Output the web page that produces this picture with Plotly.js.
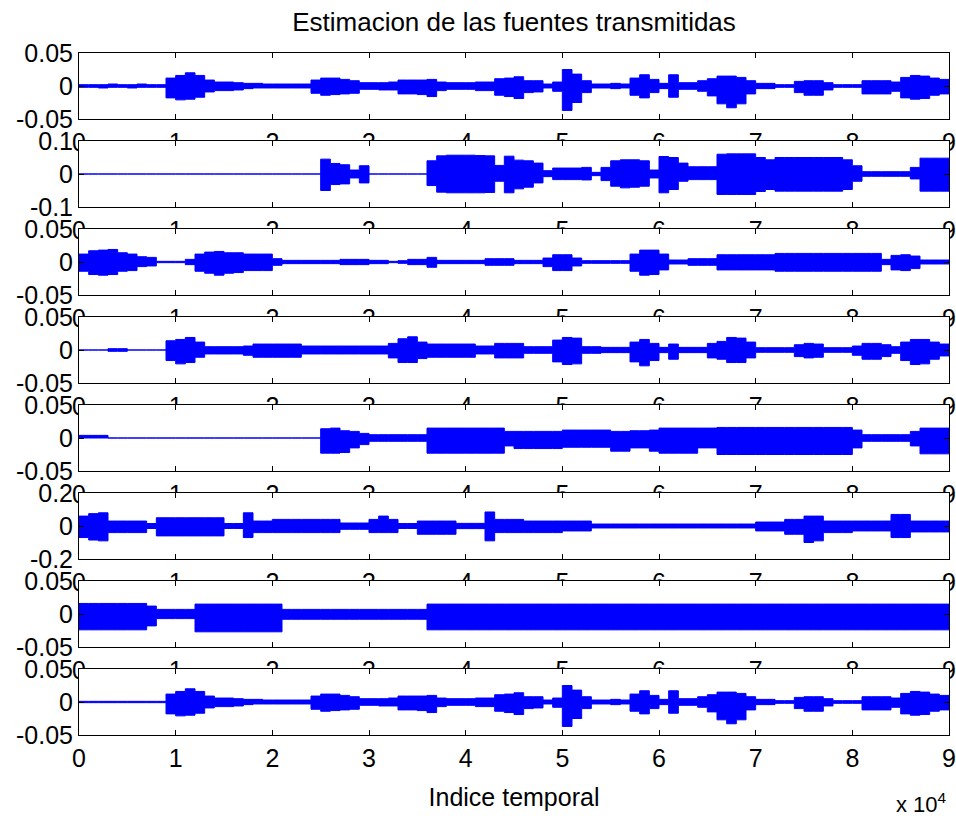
<!DOCTYPE html>
<html>
<head>
<meta charset="utf-8">
<script src="https://cdn.plot.ly/plotly-3.0.1.min.js"></script>
<style>
  html, body { margin: 0; padding: 0; background: #ffffff; }
  #chart { width: 956px; height: 820px; }
</style>
</head>
<body>
<div id="chart"></div>
<script>
// Envelope of each estimated source, one value per block of 1000 samples
// (upper = positive peak, lower = negative peak inside the block).
const BLOCK = 1000;

const S1_UPPER = [0.002,0.002,0.002,0.003,0.002,0.002,0.003,0.002,0.002,
  0.012,0.016,0.020,0.016,0.009,0.006,0.006,0.005,0.004,0.004,0.003,
  0.003,0.003,0.003,0.003,0.009,0.012,0.012,0.010,0.008,0.005,
  0.005,0.005,0.006,0.009,0.009,0.009,0.010,0.006,0.005,0.005,
  0.005,0.006,0.006,0.011,0.012,0.014,0.008,0.008,0.003,0.006,
  0.025,0.018,0.008,0.003,0.003,0.004,0.003,0.012,0.017,0.010,
  0.004,0.017,0.005,0.005,0.008,0.011,0.015,0.015,0.013,0.008,
  0.004,0.004,0.002,0.002,0.007,0.008,0.008,0.005,0.002,0.002,
  0.002,0.008,0.008,0.008,0.006,0.013,0.016,0.015,0.012,0.010,
  0.010];
const S1_LOWER = [-0.002,-0.002,-0.003,-0.002,-0.002,-0.003,-0.002,-0.002,-0.002,
  -0.018,-0.021,-0.020,-0.017,-0.009,-0.007,-0.007,-0.006,-0.004,-0.003,-0.003,
  -0.003,-0.003,-0.003,-0.003,-0.011,-0.014,-0.013,-0.012,-0.011,-0.005,
  -0.005,-0.006,-0.006,-0.012,-0.012,-0.013,-0.016,-0.007,-0.005,-0.005,
  -0.005,-0.007,-0.007,-0.014,-0.016,-0.019,-0.010,-0.009,-0.003,-0.008,
  -0.037,-0.025,-0.010,-0.003,-0.003,-0.004,-0.003,-0.014,-0.018,-0.010,
  -0.004,-0.017,-0.005,-0.005,-0.008,-0.015,-0.027,-0.033,-0.027,-0.012,
  -0.004,-0.004,-0.002,-0.002,-0.010,-0.014,-0.014,-0.006,-0.002,-0.002,
  -0.002,-0.012,-0.012,-0.012,-0.008,-0.018,-0.020,-0.019,-0.014,-0.012,
  -0.012];

const S2_UPPER = [0,0,0,0,0,0,0,0,0,0,
  0,0,0,0,0,0,0,0,0,0,
  0,0,0,0,0,0.045,0.032,0.028,0.012,0.025,
  0,0,0,0,0,0,0.040,0.055,0.057,0.057,
  0.057,0.056,0.055,0.026,0.054,0.042,0.040,0.033,0.010,0.018,
  0.018,0.018,0.020,0.005,0.020,0.040,0.043,0.043,0.040,0.012,
  0.053,0.050,0.033,0.022,0.022,0.022,0.060,0.061,0.061,0.061,
  0.050,0.043,0.050,0.050,0.050,0.050,0.050,0.050,0.050,0.043,
  0.025,0.007,0.007,0.007,0.007,0.007,0.020,0.048,0.048,0.048,
  0.048];
const S2_LOWER = [0,0,0,0,0,0,0,0,0,0,
  0,0,0,0,0,0,0,0,0,0,
  0,0,0,0,0,-0.050,-0.032,-0.030,-0.012,-0.027,
  0,0,0,0,0,0,-0.035,-0.055,-0.057,-0.057,
  -0.057,-0.057,-0.056,-0.022,-0.057,-0.045,-0.040,-0.027,-0.008,-0.017,
  -0.017,-0.017,-0.018,-0.005,-0.020,-0.037,-0.042,-0.040,-0.037,-0.012,
  -0.057,-0.047,-0.022,-0.017,-0.017,-0.017,-0.062,-0.062,-0.062,-0.062,
  -0.053,-0.047,-0.052,-0.052,-0.052,-0.052,-0.052,-0.052,-0.052,-0.047,
  -0.022,-0.007,-0.007,-0.007,-0.007,-0.007,-0.015,-0.052,-0.052,-0.052,
  -0.052];

const S3_UPPER = [0.012,0.017,0.018,0.019,0.014,0.012,0.008,0.007,0.001,0.001,
  0.001,0.004,0.012,0.015,0.016,0.014,0.014,0.012,0.012,0.012,
  0.005,0.0025,0.0025,0.0025,0.0025,0.0025,0.0025,0.004,0.004,0.004,
  0.0025,0.0025,0.001,0.002,0.004,0.004,0.007,0.0025,0.0025,0.0025,
  0.0025,0.0025,0.005,0.005,0.005,0.0025,0.0025,0.0025,0.006,0.011,
  0.011,0.006,0.002,0.002,0.002,0.002,0.002,0.012,0.018,0.018,
  0.012,0.003,0.003,0.005,0.005,0.005,0.011,0.011,0.011,0.011,
  0.011,0.011,0.013,0.013,0.013,0.013,0.013,0.013,0.013,0.013,
  0.013,0.013,0.013,0.004,0.010,0.011,0.009,0.003,0.003,0.003,
  0.003];
const S3_LOWER = [-0.014,-0.019,-0.020,-0.019,-0.014,-0.013,-0.007,-0.006,-0.001,-0.001,
  -0.001,-0.004,-0.014,-0.017,-0.020,-0.017,-0.016,-0.013,-0.013,-0.013,
  -0.005,-0.0025,-0.0025,-0.0025,-0.0025,-0.0025,-0.0025,-0.004,-0.004,-0.004,
  -0.0025,-0.0025,-0.001,-0.002,-0.004,-0.004,-0.008,-0.0025,-0.0025,-0.0025,
  -0.0025,-0.0025,-0.005,-0.005,-0.005,-0.0025,-0.0025,-0.0025,-0.007,-0.013,
  -0.013,-0.006,-0.002,-0.002,-0.002,-0.002,-0.002,-0.014,-0.020,-0.019,
  -0.012,-0.003,-0.003,-0.005,-0.005,-0.005,-0.012,-0.012,-0.012,-0.012,
  -0.012,-0.012,-0.014,-0.014,-0.014,-0.014,-0.014,-0.014,-0.014,-0.014,
  -0.014,-0.014,-0.014,-0.004,-0.012,-0.013,-0.010,-0.003,-0.003,-0.003,
  -0.003];

const S4_UPPER = [0,0,0,0.002,0.002,0,0,0,0,0.014,
  0.016,0.019,0.012,0.005,0.005,0.005,0.005,0.006,0.009,0.009,
  0.009,0.009,0.009,0.006,0.006,0.006,0.006,0.006,0.006,0.006,
  0.006,0.006,0.010,0.017,0.020,0.012,0.009,0.009,0.009,0.009,
  0.009,0.006,0.006,0.010,0.010,0.010,0.005,0.005,0.005,0.015,
  0.019,0.018,0.005,0.005,0.004,0.004,0.004,0.012,0.016,0.010,
  0.004,0.009,0.004,0.004,0.004,0.010,0.013,0.019,0.018,0.012,
  0.0035,0.0035,0.0035,0.0035,0.008,0.010,0.009,0.0035,0.0035,0.0035,
  0.006,0.010,0.010,0.008,0.005,0.012,0.016,0.016,0.012,0.009,
  0.009];
const S4_LOWER = [0,0,0,-0.002,-0.002,0,0,0,0,-0.016,
  -0.021,-0.019,-0.011,-0.006,-0.006,-0.006,-0.006,-0.008,-0.011,-0.011,
  -0.011,-0.011,-0.011,-0.006,-0.006,-0.006,-0.006,-0.006,-0.006,-0.006,
  -0.006,-0.006,-0.012,-0.019,-0.019,-0.013,-0.011,-0.011,-0.011,-0.011,
  -0.011,-0.006,-0.006,-0.012,-0.012,-0.012,-0.005,-0.005,-0.005,-0.018,
  -0.022,-0.021,-0.005,-0.005,-0.004,-0.004,-0.004,-0.018,-0.024,-0.016,
  -0.004,-0.014,-0.004,-0.004,-0.004,-0.012,-0.014,-0.019,-0.019,-0.012,
  -0.0035,-0.0035,-0.0035,-0.0035,-0.010,-0.012,-0.011,-0.0035,-0.0035,-0.0035,
  -0.008,-0.014,-0.014,-0.010,-0.005,-0.016,-0.022,-0.021,-0.014,-0.009,
  -0.009];

const S5_UPPER = [0.004,0.004,0.004,0,0,0,0,0,0,0,
  0,0,0,0,0,0,0,0,0,0,
  0,0,0,0,0,0.014,0.015,0.011,0.010,0.007,
  0.005,0.005,0.005,0.005,0.005,0.005,0.015,0.015,0.015,0.015,
  0.015,0.015,0.015,0.015,0.010,0.010,0.010,0.010,0.010,0.010,
  0.012,0.012,0.012,0.012,0.012,0.010,0.010,0.011,0.011,0.012,
  0.015,0.015,0.015,0.015,0.015,0.015,0.016,0.016,0.016,0.016,
  0.016,0.016,0.016,0.016,0.016,0.016,0.016,0.016,0.016,0.016,
  0.012,0.005,0.005,0.005,0.005,0.005,0.010,0.015,0.015,0.015,
  0.015];
const S5_LOWER = [0,0,0,0,0,0,0,0,0,0,
  0,0,0,0,0,0,0,0,0,0,
  0,0,0,0,0,-0.023,-0.023,-0.022,-0.015,-0.010,
  -0.005,-0.005,-0.005,-0.005,-0.005,-0.005,-0.023,-0.023,-0.023,-0.023,
  -0.023,-0.023,-0.023,-0.023,-0.012,-0.016,-0.016,-0.016,-0.016,-0.016,
  -0.014,-0.014,-0.014,-0.014,-0.014,-0.020,-0.020,-0.015,-0.015,-0.020,
  -0.023,-0.023,-0.023,-0.023,-0.015,-0.015,-0.025,-0.025,-0.025,-0.025,
  -0.025,-0.025,-0.025,-0.025,-0.025,-0.025,-0.025,-0.025,-0.025,-0.025,
  -0.015,-0.005,-0.005,-0.005,-0.005,-0.005,-0.012,-0.024,-0.024,-0.024,
  -0.024];

const S6_UPPER = [0.06,0.075,0.08,0.03,0.03,0.03,0.03,0.015,0.05,0.05,
  0.05,0.05,0.05,0.05,0.05,0.015,0.015,0.08,0.03,0.03,
  0.04,0.04,0.04,0.04,0.04,0.04,0.04,0.018,0.018,0.018,
  0.04,0.06,0.04,0.015,0.015,0.03,0.03,0.03,0.03,0.016,
  0.016,0.016,0.085,0.04,0.04,0.04,0.03,0.03,0.03,0.03,
  0.03,0.03,0.03,0.012,0.012,0.012,0.012,0.012,0.012,0.012,
  0.012,0.012,0.012,0.012,0.012,0.012,0.012,0.012,0.012,0.012,
  0.024,0.024,0.024,0.04,0.04,0.06,0.06,0.03,0.03,0.03,
  0.03,0.03,0.03,0.03,0.07,0.07,0.03,0.03,0.03,0.03,
  0.03];
const S6_LOWER = [-0.07,-0.085,-0.09,-0.04,-0.04,-0.04,-0.04,-0.015,-0.06,-0.06,
  -0.06,-0.06,-0.06,-0.06,-0.06,-0.015,-0.015,-0.07,-0.04,-0.04,
  -0.04,-0.04,-0.04,-0.04,-0.04,-0.04,-0.04,-0.02,-0.02,-0.02,
  -0.04,-0.04,-0.04,-0.015,-0.015,-0.05,-0.05,-0.05,-0.05,-0.016,
  -0.016,-0.016,-0.09,-0.04,-0.04,-0.04,-0.04,-0.04,-0.04,-0.04,
  -0.03,-0.03,-0.03,-0.012,-0.012,-0.012,-0.012,-0.012,-0.012,-0.012,
  -0.012,-0.012,-0.012,-0.012,-0.012,-0.012,-0.012,-0.012,-0.012,-0.012,
  -0.03,-0.03,-0.03,-0.05,-0.05,-0.10,-0.09,-0.04,-0.04,-0.04,
  -0.03,-0.03,-0.03,-0.03,-0.07,-0.07,-0.036,-0.036,-0.036,-0.036,
  -0.036];

const S7_UPPER = [0.016,0.016,0.016,0.016,0.016,0.016,0.016,0.012,0.007,0.007,
  0.007,0.007,0.015,0.015,0.015,0.015,0.015,0.015,0.015,0.015,
  0.015,0.007,0.007,0.007,0.007,0.007,0.007,0.007,0.007,0.007,
  0.007,0.007,0.007,0.007,0.007,0.007,0.015,0.015,0.015,0.015,
  0.015,0.015,0.015,0.015,0.015,0.015,0.015,0.015,0.015,0.015,
  0.015,0.015,0.015,0.015,0.015,0.015,0.015,0.015,0.015,0.015,
  0.015,0.015,0.015,0.015,0.015,0.015,0.015,0.015,0.015,0.015,
  0.015,0.015,0.015,0.015,0.015,0.015,0.015,0.015,0.015,0.015,
  0.015,0.015,0.015,0.015,0.015,0.015,0.015,0.015,0.015,0.015,
  0.015];
const S7_LOWER = [-0.024,-0.024,-0.024,-0.024,-0.024,-0.024,-0.024,-0.018,-0.007,-0.007,
  -0.007,-0.007,-0.027,-0.027,-0.027,-0.027,-0.027,-0.027,-0.027,-0.027,
  -0.027,-0.008,-0.008,-0.008,-0.008,-0.008,-0.008,-0.008,-0.008,-0.008,
  -0.008,-0.008,-0.008,-0.008,-0.008,-0.008,-0.024,-0.024,-0.024,-0.024,
  -0.024,-0.024,-0.024,-0.024,-0.024,-0.024,-0.024,-0.024,-0.024,-0.024,
  -0.024,-0.024,-0.024,-0.024,-0.024,-0.024,-0.024,-0.024,-0.024,-0.024,
  -0.024,-0.024,-0.024,-0.024,-0.024,-0.024,-0.024,-0.024,-0.024,-0.024,
  -0.024,-0.024,-0.024,-0.024,-0.024,-0.024,-0.024,-0.024,-0.024,-0.024,
  -0.024,-0.024,-0.024,-0.024,-0.024,-0.024,-0.024,-0.024,-0.024,-0.024,
  -0.024];

const S8_UPPER = [0.001,0.001,0.001,0.001,0.001,0.001,0.001,0.001,0.001,
  0.012,0.016,0.020,0.016,0.009,0.006,0.006,0.005,0.004,0.004,0.003,
  0.003,0.003,0.003,0.003,0.009,0.012,0.012,0.010,0.008,0.005,
  0.005,0.005,0.006,0.009,0.009,0.009,0.010,0.006,0.005,0.005,
  0.005,0.006,0.006,0.011,0.012,0.014,0.008,0.008,0.003,0.006,
  0.025,0.018,0.008,0.003,0.003,0.004,0.003,0.012,0.017,0.010,
  0.004,0.017,0.005,0.005,0.008,0.011,0.015,0.015,0.013,0.008,
  0.004,0.004,0.002,0.002,0.007,0.008,0.008,0.005,0.002,0.002,
  0.002,0.008,0.008,0.008,0.006,0.013,0.016,0.015,0.012,0.010,
  0.010];
const S8_LOWER = [-0.001,-0.001,-0.001,-0.001,-0.001,-0.001,-0.001,-0.001,-0.001,
  -0.018,-0.021,-0.020,-0.017,-0.009,-0.007,-0.007,-0.006,-0.004,-0.003,-0.003,
  -0.003,-0.003,-0.003,-0.003,-0.011,-0.014,-0.013,-0.012,-0.011,-0.005,
  -0.005,-0.006,-0.006,-0.012,-0.012,-0.013,-0.016,-0.007,-0.005,-0.005,
  -0.005,-0.007,-0.007,-0.014,-0.016,-0.019,-0.010,-0.009,-0.003,-0.008,
  -0.037,-0.025,-0.010,-0.003,-0.003,-0.004,-0.003,-0.014,-0.018,-0.010,
  -0.004,-0.017,-0.005,-0.005,-0.008,-0.015,-0.027,-0.033,-0.027,-0.012,
  -0.004,-0.004,-0.002,-0.002,-0.010,-0.014,-0.014,-0.006,-0.002,-0.002,
  -0.002,-0.012,-0.012,-0.012,-0.008,-0.018,-0.020,-0.019,-0.014,-0.012,
  -0.012];

const UPPER = [S1_UPPER, S2_UPPER, S3_UPPER, S4_UPPER, S5_UPPER, S6_UPPER, S7_UPPER, S8_UPPER];
const LOWER = [S1_LOWER, S2_LOWER, S3_LOWER, S4_LOWER, S5_LOWER, S6_LOWER, S7_LOWER, S8_LOWER];

// Axis limits and tick labels
const X_MAX = 90000;
const X_TICK_VALUES = [0, 10000, 20000, 30000, 40000, 50000, 60000, 70000, 80000, 90000];
const X_TICK_TEXT = ['0', '1', '2', '3', '4', '5', '6', '7', '8', '9'];
const Y_LIMITS = [0.05, 0.1, 0.05, 0.05, 0.05, 0.2, 0.05, 0.05];
const Y_TICK_TEXT = [
  ['-0.05', '0', '0.05'],
  ['-0.1', '0', '0.1'],
  ['-0.05', '0', '0.05'],
  ['-0.05', '0', '0.05'],
  ['-0.05', '0', '0.05'],
  ['-0.2', '0', '0.2'],
  ['-0.05', '0', '0.05'],
  ['-0.05', '0', '0.05']
];

const TITLE = 'Estimacion de las fuentes transmitidas';
const X_TITLE = 'Indice temporal';
const X_EXPONENT = 'x 10<sup>4</sup>';

// Page geometry (pixels)
const W = 956, H = 820;
const MARGIN = { l: 79, r: 7, t: 53, b: 85 };
const PLOT_H = H - MARGIN.t - MARGIN.b;
const PANEL_H = 66, PANEL_STEP = 88;
const FONT = { family: 'Liberation Sans, Arial, sans-serif', size: 25, color: '#000000' };
const BLUE = '#0000ff';

const sampleIndex = S1_UPPER.map((_, i) => i * BLOCK);

// A full-size hidden subplot comes first, so every panel gets its own
// white background that hides the lower half of the tick labels above it.
const traces = [{ x: [], y: [], xaxis: 'x', yaxis: 'y', hoverinfo: 'skip', showlegend: false }];
const layout = {
  width: W, height: H,
  margin: MARGIN,
  paper_bgcolor: '#ffffff',
  plot_bgcolor: 'rgb(255,255,255)',
  showlegend: false,
  font: FONT,
  title: {
    text: TITLE, font: { family: FONT.family, size: 26, color: '#000000' },
    x: 0.5, xref: 'paper', xanchor: 'center',
    y: 1 - 22 / H, yref: 'container', yanchor: 'middle'
  },
  xaxis: { domain: [0, 1], range: [0, 1], visible: false, fixedrange: true },
  yaxis: { domain: [0, 1], range: [0, 1], visible: false, fixedrange: true },
  annotations: [{
    text: X_EXPONENT, xref: 'paper', yref: 'paper',
    x: 1, xanchor: 'right', y: -(803 - (H - MARGIN.b)) / PLOT_H, yanchor: 'middle',
    showarrow: false, font: { family: FONT.family, size: 22, color: '#000000' }
  }]
};

for (let p = 0; p < 8; p++) {
  const n = p + 2;
  const xa = 'x' + n, ya = 'y' + n;
  const top = p * PANEL_STEP, bottom = top + PANEL_H;
  const lim = Y_LIMITS[p];

  traces.push({
    x: sampleIndex, y: UPPER[p], xaxis: xa, yaxis: ya,
    mode: 'lines', line: { color: BLUE, width: 1, shape: 'hv' },
    hoverinfo: 'skip', showlegend: false
  });
  traces.push({
    x: sampleIndex, y: LOWER[p], xaxis: xa, yaxis: ya,
    mode: 'lines', line: { color: BLUE, width: 1, shape: 'hv' },
    fill: 'tonexty', fillcolor: BLUE,
    hoverinfo: 'skip', showlegend: false
  });

  layout['xaxis' + n] = {
    domain: [0, 1], anchor: ya, range: [0, X_MAX],
    tickmode: 'array', tickvals: X_TICK_VALUES, ticktext: X_TICK_TEXT,
    ticks: 'inside', ticklen: 5, tickwidth: 1, tickcolor: '#000000',
    ticklabeloverflow: 'allow', ticklabelstandoff: 1,
    showline: true, linecolor: '#000000', linewidth: 1, mirror: 'ticks',
    showgrid: false, zeroline: false, tickfont: FONT, fixedrange: true
  };
  layout['yaxis' + n] = {
    domain: [1 - bottom / PLOT_H, 1 - top / PLOT_H], anchor: xa, range: [-lim, lim],
    tickmode: 'array', tickvals: [-lim, 0, lim], ticktext: Y_TICK_TEXT[p],
    ticks: 'inside', ticklen: 5, tickwidth: 1, tickcolor: '#000000',
    ticklabeloverflow: 'allow',
    showline: true, linecolor: '#000000', linewidth: 1, mirror: 'ticks',
    showgrid: false, zeroline: false, tickfont: FONT, fixedrange: true
  };
}

layout.xaxis9.title = { text: X_TITLE, font: FONT, standoff: 17 };

Plotly.newPlot('chart', traces, layout, { displayModeBar: false, staticPlot: true });
</script>
</body>
</html>
